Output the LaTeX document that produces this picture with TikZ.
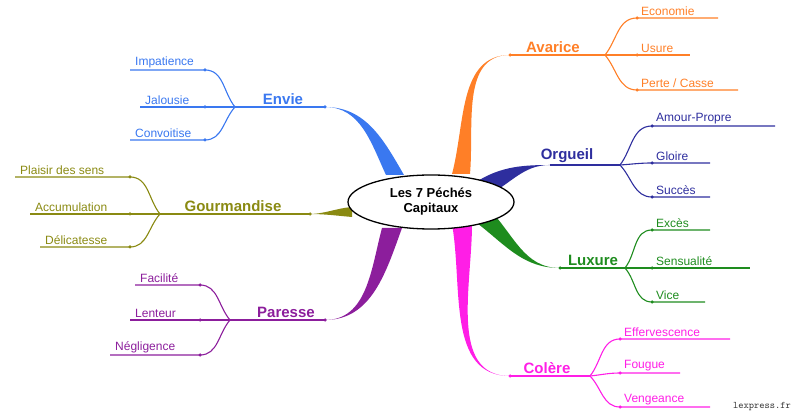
\documentclass[tikz,border=0pt]{standalone}
\usepackage{fontspec}
\setmainfont{Liberation Sans}
\usetikzlibrary{shapes.geometric}
\begin{document}
\definecolor{cav}{HTML}{FF7F27}
\definecolor{cor}{HTML}{2E2E9E}
\definecolor{clu}{HTML}{1E8C1E}
\definecolor{cco}{HTML}{FF1EE6}
\definecolor{cen}{HTML}{3A78F0}
\definecolor{cgo}{HTML}{8A8A12}
\definecolor{cpa}{HTML}{8C1E9C}
\begin{tikzpicture}[x=1pt,y=1pt,
  leaf/.style={font=\fontsize{12}{14}\selectfont,inner sep=2pt},
  main/.style={font=\fontsize{15}{17}\selectfont\bfseries,anchor=south,inner sep=2.5pt},
  ln/.style={line width=1.1pt},
  dot/.style={circle,fill,inner sep=0pt,minimum size=3.5pt}]
\useasboundingbox (0,0) rectangle (800,420);
% #1 colour, #2 fork, #3 leaf x start, #4 y, #5 leaf x end, #6 text, #7 name
\newcommand\leafR[7]{%
  \coordinate (#7) at (#3,#4);
  \draw[ln,#1] (#2) to[out={atan2(#4-\forky,30)},in=180] (#7) -- (#5,#4);
  \node[dot,#1] at (#7) {};
  \node[leaf,anchor=south west,text=#1] at (#3+2,#4) {#6};}
\newcommand\leafL[7]{%
  \coordinate (#7) at (#3,#4);
  \draw[ln,#1] (#2) to[out={atan2(#4-\forky,-30)},in=0] (#7) -- (#5,#4);
  \node[dot,#1] at (#7) {};
  \node[leaf,anchor=south west,text=#1] at (#5+3,#4) {#6};}
% branches
\fill[cen] (386,245) to[out=115,in=0] (325,313) to[out=0,in=120] (404,245) -- cycle;
\fill[cgo] (352,203) to[out=175,in=0] (308,206) to[out=0,in=185] (352,213) -- cycle;
\fill[cpa] (382,192) to[out=-105,in=0] (325,100) to[out=0,in=-110] (402,192) -- cycle;
\fill[cav] (452,246) to[out=75,in=180] (510,365) to[out=180,in=85] (470,246) -- cycle;
\fill[cor] (470,234) to[out=35,in=180] (550,255) to[out=180,in=25] (486,224) -- cycle;
\fill[clu] (470,202) to[out=-35,in=180] (560,152) to[out=180,in=-45] (488,212) -- cycle;
\fill[cco] (452,196) to[out=-80,in=180] (510,44) to[out=180,in=-90] (472,196) -- cycle;
\node[draw,line width=1.3pt,ellipse,fill=white,minimum width=166,minimum height=54,align=center,
  font=\fontsize{13}{15}\selectfont\bfseries,inner sep=0pt] (c) at (431,218) {Les 7 Péchés\\Capitaux};
% Avarice
\coordinate (av0) at (510,365); \coordinate (av) at (605,365);
\draw[ln,cav] (av0) -- (av); \node[main,text=cav] at (553,365) {Avarice};
\node[dot,cav] at (av0) {};
\def\forky{365}
\leafR{cav}{av}{637}{402}{718}{Economie}{a1}
\leafR{cav}{av}{637}{365}{690}{Usure}{a2}
\leafR{cav}{av}{637}{330}{738}{Perte / Casse}{a3}
% Orgueil
\coordinate (or0) at (550,255); \coordinate (or) at (620,255);
\draw[ln,cor] (or0) -- (or); \node[main,text=cor] at (567,255) {Orgueil};
\def\forky{255}
\leafR{cor}{or}{652}{294}{775}{Amour-Propre}{o1}
\leafR{cor}{or}{652}{257}{710}{Gloire}{o2}
\leafR{cor}{or}{652}{223}{710}{Succès}{o3}
% Luxure
\coordinate (lu0) at (560,152); \coordinate (lu) at (625,152);
\draw[ln,clu] (lu0) -- (lu); \node[main,text=clu] at (593,152) {Luxure};
\node[dot,clu] at (lu0) {};
\def\forky{152}
\leafR{clu}{lu}{652}{190}{710}{Excès}{l1}
\leafR{clu}{lu}{652}{152}{750}{Sensualité}{l2}
\leafR{clu}{lu}{652}{118}{705}{Vice}{l3}
% Colère
\coordinate (co0) at (510,44); \coordinate (co) at (590,44);
\draw[ln,cco] (co0) -- (co); \node[main,text=cco] at (547,44) {Colère};
\node[dot,cco] at (co0) {};
\def\forky{44}
\leafR{cco}{co}{620}{81}{730}{Effervescence}{k1}
\leafR{cco}{co}{620}{47}{680}{Fougue}{k2}
\leafR{cco}{co}{620}{13}{710}{Vengeance}{k3}
% Envie
\coordinate (en0) at (325,313); \coordinate (en) at (235,313);
\draw[ln,cen] (en0) -- (en); \node[main,text=cen] at (283,313) {Envie};
\node[dot,cen] at (en0) {};
\def\forky{313}
\leafL{cen}{en}{205}{350}{130}{Impatience}{e1}
\leafL{cen}{en}{205}{313}{140}{Jalousie}{e2}
\leafL{cen}{en}{205}{280}{130}{Convoitise}{e3}
% Gourmandise
\coordinate (go0) at (310,206); \coordinate (go) at (160,206);
\draw[ln,cgo] (go0) -- (go); \node[main,text=cgo] at (233,206) {Gourmandise};
\node[dot,cgo] at (go0) {};
\def\forky{206}
\leafL{cgo}{go}{130}{243}{15}{Plaisir des sens}{g1}
\leafL{cgo}{go}{130}{206}{30}{Accumulation}{g2}
\leafL{cgo}{go}{130}{173}{40}{Délicatesse}{g3}
% Paresse
\coordinate (pa0) at (325,100); \coordinate (pa) at (230,100);
\draw[ln,cpa] (pa0) -- (pa); \node[main,text=cpa] at (286,100) {Paresse};
\node[dot,cpa] at (pa0) {};
\def\forky{100}
\leafL{cpa}{pa}{200}{135}{135}{Facilité}{p1}
\leafL{cpa}{pa}{200}{100}{130}{Lenteur}{p2}
\leafL{cpa}{pa}{200}{65}{110}{Négligence}{p3}
% watermark
\node[fill=white,text=black!80,font=\ttfamily\fontsize{10}{11}\selectfont,inner sep=2pt] (wm) at (762,13) {lexpress.fr};
\end{tikzpicture}
\end{document}
